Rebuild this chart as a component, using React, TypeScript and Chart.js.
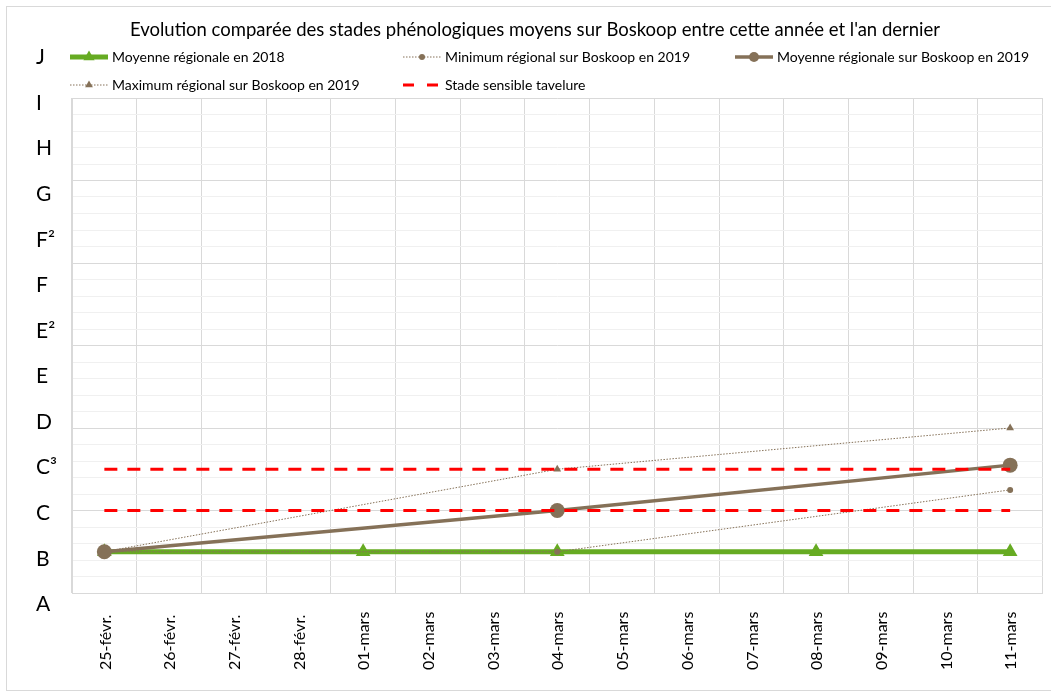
import React, { useEffect, useRef } from 'react';
import { Chart, registerables } from 'chart.js';

Chart.register(...registerables);

const categories = [
  '25-févr.', '26-févr.', '27-févr.', '28-févr.', '01-mars', '02-mars', '03-mars',
  '04-mars', '05-mars', '06-mars', '07-mars', '08-mars', '09-mars', '10-mars', '11-mars',
];
const stadeLabels = ['A', 'B', 'C', 'C³', 'D', 'E', 'E²', 'F', 'F²', 'G', 'H', 'I', 'J'];

const moyenne2018 = [2.5, null, null, null, 2.5, null, null, 2.5, null, null, null, 2.5, null, null, 2.5];
const minimum2019 = [2.5, null, null, null, null, null, null, 2.5, null, null, null, null, null, null, 6.25];
const moyenne2019 = [2.5, null, null, null, null, null, null, 5, null, null, null, null, null, null, 7.75];
const maximum2019 = [2.5, null, null, null, null, null, null, 7.5, null, null, null, null, null, null, 10];
const tavelureC = [5, 5, 5, 5, 5, 5, 5, 5, 5, 5, 5, 5, 5, 5, 5];
const tavelureC3 = [7.5, 7.5, 7.5, 7.5, 7.5, 7.5, 7.5, 7.5, 7.5, 7.5, 7.5, 7.5, 7.5, 7.5, 7.5];

const titleText = "Evolution comparée des stades phénologiques moyens sur Boskoop entre cette année et l'an dernier";

const FONT = 'Lato, "Open Sans", sans-serif';
const GREEN = '#66ab22';
const BROWN = '#857158';
const RED = '#ff0000';
const GRID = '#d9d9d9';
const GRID_MINOR = '#f0f0f0';

const decorPlugin = {
  id: 'decor',
  afterDraw(chart: any) {
    const ctx = chart.ctx as CanvasRenderingContext2D;
    const xs = chart.scales.x;
    const ys = chart.scales.y;
    ctx.save();
    // outer border
    ctx.strokeStyle = GRID;
    ctx.lineWidth = 1;
    ctx.strokeRect(6.5, 6.5, chart.width + 10, 684);

    // title
    ctx.fillStyle = '#000';
    ctx.font = `18.5px ${FONT}`;
    ctx.textAlign = 'center';
    ctx.textBaseline = 'middle';
    ctx.fillText(titleText, 535, 30);

    // y labels (stages)
    ctx.font = `21px ${FONT}`;
    ctx.textAlign = 'left';
    stadeLabels.forEach((lab, i) => {
      const y = ys.getPixelForValue(-0.69 + i * 2.7625);
      ctx.fillText(lab, 36, y);
    });

    // x labels
    ctx.font = `16px ${FONT}`;
    categories.forEach((lab, i) => {
      const x = xs.getPixelForValue(i);
      ctx.save();
      ctx.translate(x + 1, 670);
      ctx.rotate(-Math.PI / 2);
      ctx.textAlign = 'left';
      ctx.textBaseline = 'middle';
      ctx.fillText(lab, 0, 0);
      ctx.restore();
    });

    // legend
    const ds = chart.data.datasets;
    const items = [
      { d: ds[0], x: 70, y: 57 },
      { d: ds[1], x: 403, y: 57 },
      { d: ds[2], x: 735, y: 57 },
      { d: ds[3], x: 70, y: 85 },
      { d: ds[4], x: 403, y: 85 },
    ];
    items.forEach(({ d, x, y }) => {
      const len = 38;
      ctx.save();
      ctx.strokeStyle = d.borderColor;
      ctx.lineWidth = d.legendLineWidth;
      ctx.setLineDash(d.legendDash || []);
      ctx.beginPath();
      ctx.moveTo(x, y);
      ctx.lineTo(x + len, y);
      ctx.stroke();
      ctx.setLineDash([]);
      if (d.legendPoint) {
        ctx.fillStyle = d.pointBackgroundColor;
        const cx = x + len / 2;
        const r = d.legendPoint;
        ctx.beginPath();
        if (d.pointStyle === 'triangle') {
          ctx.moveTo(cx, y - r);
          ctx.lineTo(cx + r * 0.866, y + r * 0.5);
          ctx.lineTo(cx - r * 0.866, y + r * 0.5);
          ctx.closePath();
        } else {
          ctx.arc(cx, y, r, 0, Math.PI * 2);
        }
        ctx.fill();
      }
      ctx.restore();
      ctx.fillStyle = '#000';
      ctx.font = `14px ${FONT}`;
      ctx.textAlign = 'left';
      ctx.textBaseline = 'middle';
      ctx.fillText(d.label, x + len + 4, y);
    });
    ctx.restore();
  },
};

export default function App() {
  const ref = useRef<HTMLCanvasElement | null>(null);
  useEffect(() => {
    if (!ref.current) return;
    const chart = new Chart(ref.current, {
      type: 'line',
      data: {
        labels: categories,
        datasets: [
          {
            label: 'Moyenne régionale en 2018',
            data: moyenne2018,
            borderColor: GREEN,
            backgroundColor: GREEN,
            pointBackgroundColor: GREEN,
            pointBorderColor: GREEN,
            borderWidth: 5,
            pointStyle: 'triangle',
            pointRadius: 8.5,
            pointBorderWidth: 0,
            spanGaps: true,
            order: 5,
            legendLineWidth: 5,
            legendPoint: 6.5,
          } as any,
          {
            label: 'Minimum régional sur Boskoop en 2019',
            data: minimum2019,
            borderColor: BROWN,
            backgroundColor: BROWN,
            pointBackgroundColor: BROWN,
            pointBorderColor: BROWN,
            borderWidth: 1,
            borderDash: [1.5, 1.5],
            pointStyle: 'circle',
            pointRadius: 3,
            pointBorderWidth: 0,
            spanGaps: true,
            order: 4,
            legendLineWidth: 1,
            legendDash: [1.5, 1.5],
            legendPoint: 3,
          } as any,
          {
            label: 'Moyenne régionale sur Boskoop en 2019',
            data: moyenne2019,
            borderColor: BROWN,
            backgroundColor: BROWN,
            pointBackgroundColor: BROWN,
            pointBorderColor: BROWN,
            borderWidth: 3.5,
            pointStyle: 'circle',
            pointRadius: 7.5,
            pointBorderWidth: 0,
            spanGaps: true,
            order: 3,
            legendLineWidth: 3.5,
            legendPoint: 5,
          } as any,
          {
            label: 'Maximum régional sur Boskoop en 2019',
            data: maximum2019,
            borderColor: BROWN,
            backgroundColor: BROWN,
            pointBackgroundColor: BROWN,
            pointBorderColor: BROWN,
            borderWidth: 1,
            borderDash: [1.5, 1.5],
            pointStyle: 'triangle',
            pointRadius: 4.5,
            pointBorderWidth: 0,
            spanGaps: true,
            order: 2,
            legendLineWidth: 1,
            legendDash: [1.5, 1.5],
            legendPoint: 4.5,
          } as any,
          {
            label: 'Stade sensible tavelure',
            data: tavelureC,
            borderColor: RED,
            backgroundColor: RED,
            borderWidth: 3,
            borderDash: [13, 10],
            pointRadius: 0,
            order: 1,
            legendLineWidth: 3,
            legendDash: [11, 13],
          } as any,
          {
            label: 'Stade sensible tavelure',
            data: tavelureC3,
            borderColor: RED,
            backgroundColor: RED,
            borderWidth: 3,
            borderDash: [13, 10],
            pointRadius: 0,
            order: 0,
          } as any,
        ],
      },
      options: {
        animation: false,
        responsive: false,
        events: [],
        layout: { padding: { top: 98, right: 5, left: 0, bottom: 0 } },
        plugins: {
          legend: { display: false },
          title: { display: false },
          tooltip: { enabled: false },
        },
        scales: {
          x: {
            type: 'category',
            offset: true,
            grid: { offset: true, color: GRID, drawTicks: false, lineWidth: 1 },
            border: { display: true, color: GRID },
            ticks: { display: false },
            afterFit: (s: any) => { s.height = 102; },
          },
          y: {
            type: 'linear',
            min: 0,
            max: 30,
            ticks: { display: false, stepSize: 1, maxTicksLimit: 40 },
            grid: {
              drawTicks: false,
              color: (c: any) => (c.tick && c.tick.value % 5 === 0 ? GRID : GRID_MINOR),
              lineWidth: 1,
            },
            border: { display: true, color: GRID },
            afterFit: (s: any) => { s.width = 72; },
          },
        },
      },
      plugins: [decorPlugin],
    });
    return () => chart.destroy();
  }, []);
  return (
    <div style={{ position: 'fixed', left: 0, top: 0, width: 1051, height: 695, background: '#fff' }}>
      <canvas ref={ref} width={1051} height={695} style={{ width: 1051, height: 695, display: 'block' }} />
    </div>
  );
}
